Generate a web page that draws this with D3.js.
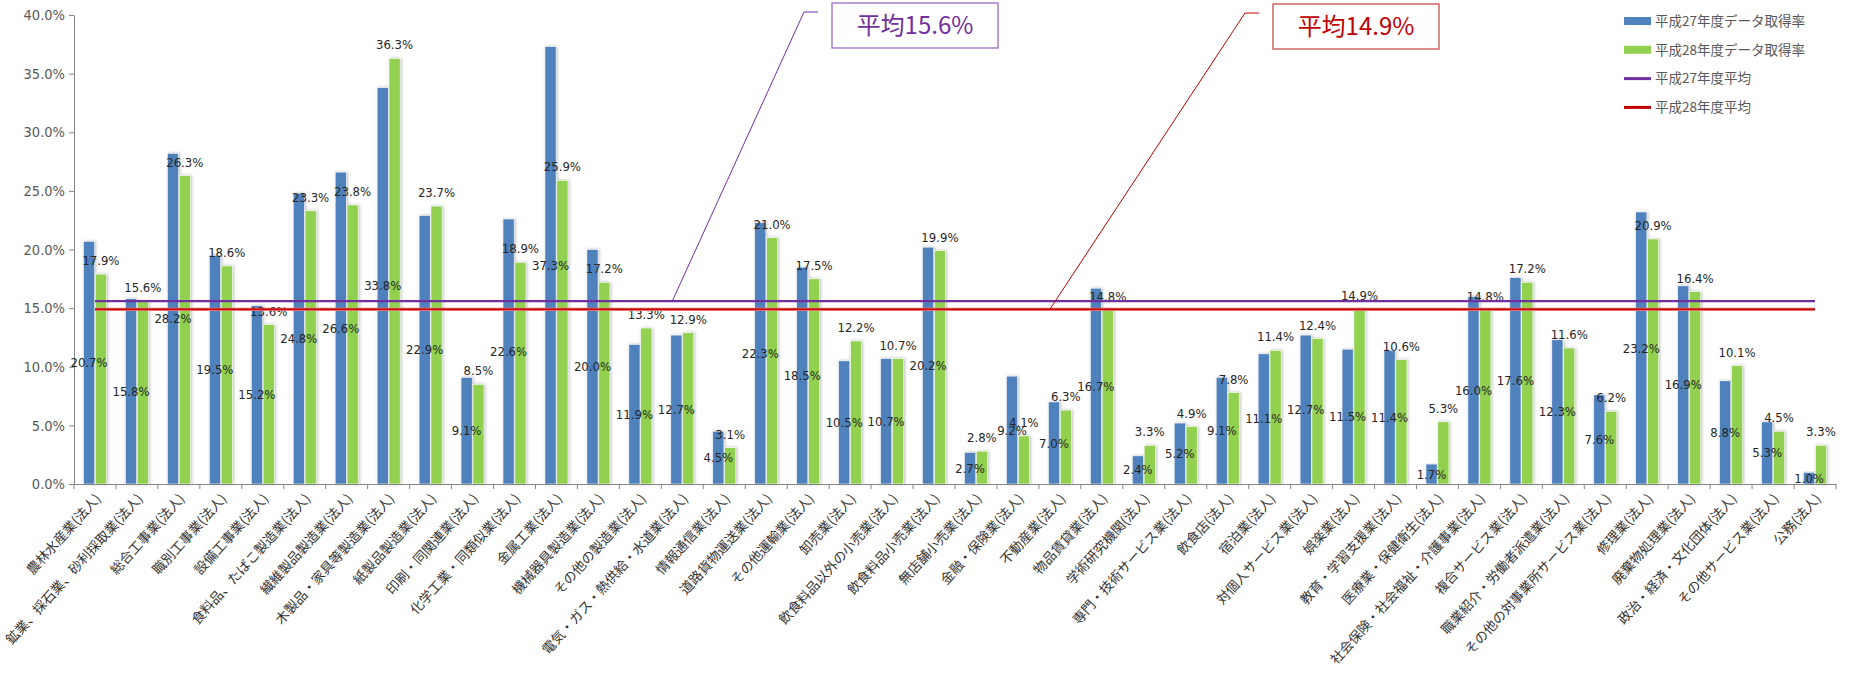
<!DOCTYPE html>
<html>
<head>
<meta charset="utf-8">
<script src="https://cdn.jsdelivr.net/npm/d3@7"></script>
<style>
  html, body { margin: 0; padding: 0; background: #fff; }
  svg { display: block; }
  .num { font-family: "Liberation Sans Narrow", "DejaVu Sans Condensed", "Liberation Sans", Arial, sans-serif; }
  .jp { font-family: "Noto Sans CJK JP", "Noto Sans", sans-serif; }
</style>
</head>
<body>
<svg id="chart" width="1858" height="673"></svg>
<script>
const categories = [
  "農林水産業(法人)", "鉱業、採石業、砂利採取業(法人)", "総合工事業(法人)", "職別工事業(法人)",
  "設備工事業(法人)", "食料品、たばこ製造業(法人)", "繊維製品製造業(法人)", "木製品・家具等製造業(法人)",
  "紙製品製造業(法人)", "印刷・同関連業(法人)", "化学工業・同類似業(法人)", "金属工業(法人)",
  "機械器具製造業(法人)", "その他の製造業(法人)", "電気・ガス・熱供給・水道業(法人)", "情報通信業(法人)",
  "道路貨物運送業(法人)", "その他運輸業(法人)", "卸売業(法人)", "飲食料品以外の小売業(法人)",
  "飲食料品小売業(法人)", "無店舗小売業(法人)", "金融・保険業(法人)", "不動産業(法人)",
  "物品賃貸業(法人)", "学術研究機関(法人)", "専門・技術サービス業(法人)", "飲食店(法人)",
  "宿泊業(法人)", "対個人サービス業(法人)", "娯楽業(法人)", "教育・学習支援業(法人)",
  "医療業・保健衛生(法人)", "社会保険・社会福祉・介護事業(法人)", "複合サービス業(法人)", "職業紹介・労働者派遣業(法人)",
  "その他の対事業所サービス業(法人)", "修理業(法人)", "廃棄物処理業(法人)", "政治・経済・文化団体(法人)",
  "その他サービス業(法人)", "公務(法人)"
];
const h27Rates = [
  20.7, 15.8, 28.2, 19.5, 15.2, 24.8, 26.6, 33.8, 22.9, 9.1, 22.6, 37.3, 20.0, 11.9,
  12.7, 4.5, 22.3, 18.5, 10.5, 10.7, 20.2, 2.7, 9.2, 7.0, 16.7, 2.4, 5.2, 9.1,
  11.1, 12.7, 11.5, 11.4, 1.7, 16.0, 17.6, 12.3, 7.6, 23.2, 16.9, 8.8, 5.3, 1.0
];
const h28Rates = [
  17.9, 15.6, 26.3, 18.6, 13.6, 23.3, 23.8, 36.3, 23.7, 8.5, 18.9, 25.9, 17.2, 13.3,
  12.9, 3.1, 21.0, 17.5, 12.2, 10.7, 19.9, 2.8, 4.1, 6.3, 14.8, 3.3, 4.9, 7.8,
  11.4, 12.4, 14.9, 10.6, 5.3, 14.8, 17.2, 11.6, 6.2, 20.9, 16.4, 10.1, 4.5, 3.3
];
const h27Average = 15.6;
const h28Average = 14.9;
const yTicks = [0, 5, 10, 15, 20, 25, 30, 35, 40];
const seriesNames = ["平成27年度データ取得率", "平成28年度データ取得率", "平成27年度平均", "平成28年度平均"];
const calloutTexts = ["平均15.6%", "平均14.9%"];

const colors = { h27: "#4F81BD", h28: "#92D050", avg27: "#7030A0", avg28: "#C00000" };

const svg = d3.select("#chart");
const plotLeft = 74, plotRight = 1836, plotTop = 15, plotBottom = 484;

const defs = svg.append("defs");
const f = defs.append("filter").attr("id", "shadow").attr("x", "-50%").attr("y", "-5%").attr("width", "200%").attr("height", "110%");
f.append("feDropShadow").attr("dx", 1).attr("dy", 0).attr("stdDeviation", 1.6).attr("flood-color", "#808080").attr("flood-opacity", 0.55);

const x = d3.scaleBand().domain(categories).range([plotLeft, plotRight]).paddingInner(0).paddingOuter(0);
const bw = x.bandwidth();
const sub = d3.scaleBand().domain(["h27", "h28"]).range([bw / 2 - 11.5, bw / 2 + 11.5]).paddingInner(0.06);
const y = d3.scaleLinear().domain([0, 40]).range([plotBottom, plotTop]);

// Y axis
const yAxis = d3.axisLeft(y).tickValues(yTicks).tickFormat(d => d.toFixed(1) + "%").tickSize(5).tickSizeOuter(0);
const gy = svg.append("g").attr("transform", `translate(${plotLeft},0)`).call(yAxis);
gy.select(".domain").attr("stroke", "#868686");
gy.selectAll(".tick line").attr("stroke", "#868686");
gy.selectAll(".tick text").attr("class", "num").attr("font-size", 14.5).attr("fill", "#595959").attr("x", -9);

// Bars
const data = categories.map((c, i) => ({ c, h27: h27Rates[i], h28: h28Rates[i] }));
const groups = svg.append("g").selectAll("g").data(data).join("g")
  .attr("transform", d => `translate(${x(d.c)},0)`);

["h27", "h28"].forEach(k => {
  groups.append("rect")
    .attr("x", sub(k))
    .attr("width", sub.bandwidth())
    .attr("y", d => y(d[k]))
    .attr("height", d => y(0) - y(d[k]))
    .attr("fill", colors[k])
    .attr("stroke", "#ffffff")
    .attr("stroke-width", 0.6)
    .attr("filter", "url(#shadow)");
});

// X axis
const xAxis = d3.axisBottom(x).tickSize(0).tickFormat("");
const gx = svg.append("g").attr("transform", `translate(0,${plotBottom})`).call(xAxis);
gx.select(".domain").attr("stroke", "#868686");
const boundaries = categories.map(c => x(c)).concat([plotRight]);
svg.append("g").selectAll("line").data(boundaries).join("line")
  .attr("x1", d => d).attr("x2", d => d).attr("y1", plotBottom).attr("y2", plotBottom + 5)
  .attr("stroke", "#868686");

// Category labels
svg.append("g").selectAll("text").data(categories).join("text")
  .attr("class", "jp")
  .attr("font-size", 13.4)
  .attr("fill", "#333")
  .attr("text-anchor", "end")
  .attr("transform", c => `translate(${x(c) + bw / 2 + 3},${plotBottom + 12}) rotate(-48)`)
  .attr("dy", "0.35em")
  .text(c => c);

// Average lines
const line = d3.line().x(d => x(d.c) + bw / 2).y(d => y(d.v));
svg.append("path")
  .datum(categories.map(c => ({ c, v: h28Average })))
  .attr("d", line).attr("fill", "none").attr("stroke", "#E87070").attr("stroke-width", 3.2);
svg.append("path")
  .datum(categories.map(c => ({ c, v: h28Average })))
  .attr("d", line).attr("fill", "none").attr("stroke", colors.avg28).attr("stroke-width", 1.6);
svg.append("path")
  .datum(categories.map(c => ({ c, v: h27Average })))
  .attr("d", line).attr("fill", "none").attr("stroke", colors.avg27).attr("stroke-width", 2.2);

// Data labels
const fmt = v => v.toFixed(1) + "%";
groups.append("text")
  .attr("class", "num").attr("font-size", 13).attr("fill", "#262626")
  .attr("text-anchor", "middle")
  .attr("x", sub("h27") + sub.bandwidth() / 2)
  .attr("y", d => y(d.h27 / 2))
  .attr("dy", "0.35em")
  .text(d => fmt(d.h27));
groups.append("text")
  .attr("class", "num").attr("font-size", 13).attr("fill", "#262626")
  .attr("text-anchor", "middle")
  .attr("x", sub("h28") + sub.bandwidth() / 2)
  .attr("y", d => y(d.h28) - 9)
  .text(d => fmt(d.h28));

// Callouts
function callout(catIdx, avg, boxX, boxY, boxW, boxH, color, borderColor, label) {
  const ax = x(categories[catIdx]) + bw / 2 - 10;
  const ay = y(avg);
  const elbowY = boxY + 9;
  svg.append("polyline")
    .attr("points", `${ax},${ay} ${boxX - 28},${elbowY} ${boxX - 14},${elbowY}`)
    .attr("fill", "none").attr("stroke", color).attr("stroke-width", 1);
  svg.append("rect")
    .attr("x", boxX).attr("y", boxY).attr("width", boxW).attr("height", boxH)
    .attr("fill", "#fff").attr("stroke", borderColor).attr("stroke-width", 1.3);
  svg.append("text")
    .attr("class", "jp").attr("font-size", 24).attr("fill", color)
    .attr("text-anchor", "middle")
    .attr("x", boxX + boxW / 2).attr("y", boxY + boxH / 2).attr("dy", "0.36em")
    .text(label);
}
callout(14, h27Average, 832, 3, 166, 45, colors.avg27, "#9B6BC8", calloutTexts[0]);
callout(23, h28Average, 1273, 4, 166, 45, colors.avg28, "#C8504D", calloutTexts[1]);

// Legend
const legend = svg.append("g").attr("transform", "translate(1624,21)");
seriesNames.forEach((name, i) => {
  const g = legend.append("g").attr("transform", `translate(0,${i * 28.8})`);
  if (i < 2) {
    g.append("rect").attr("x", 0).attr("y", -4).attr("width", 27).attr("height", 8)
      .attr("fill", i === 0 ? colors.h27 : colors.h28);
  } else {
    g.append("line").attr("x1", 0).attr("x2", 27).attr("y1", 0).attr("y2", 0)
      .attr("stroke", i === 2 ? colors.avg27 : colors.avg28).attr("stroke-width", 3);
  }
  g.append("text").attr("class", "jp").attr("font-size", 13.5).attr("fill", "#595959")
    .attr("x", 31).attr("dy", "0.36em").text(name);
});
</script>
</body>
</html>
